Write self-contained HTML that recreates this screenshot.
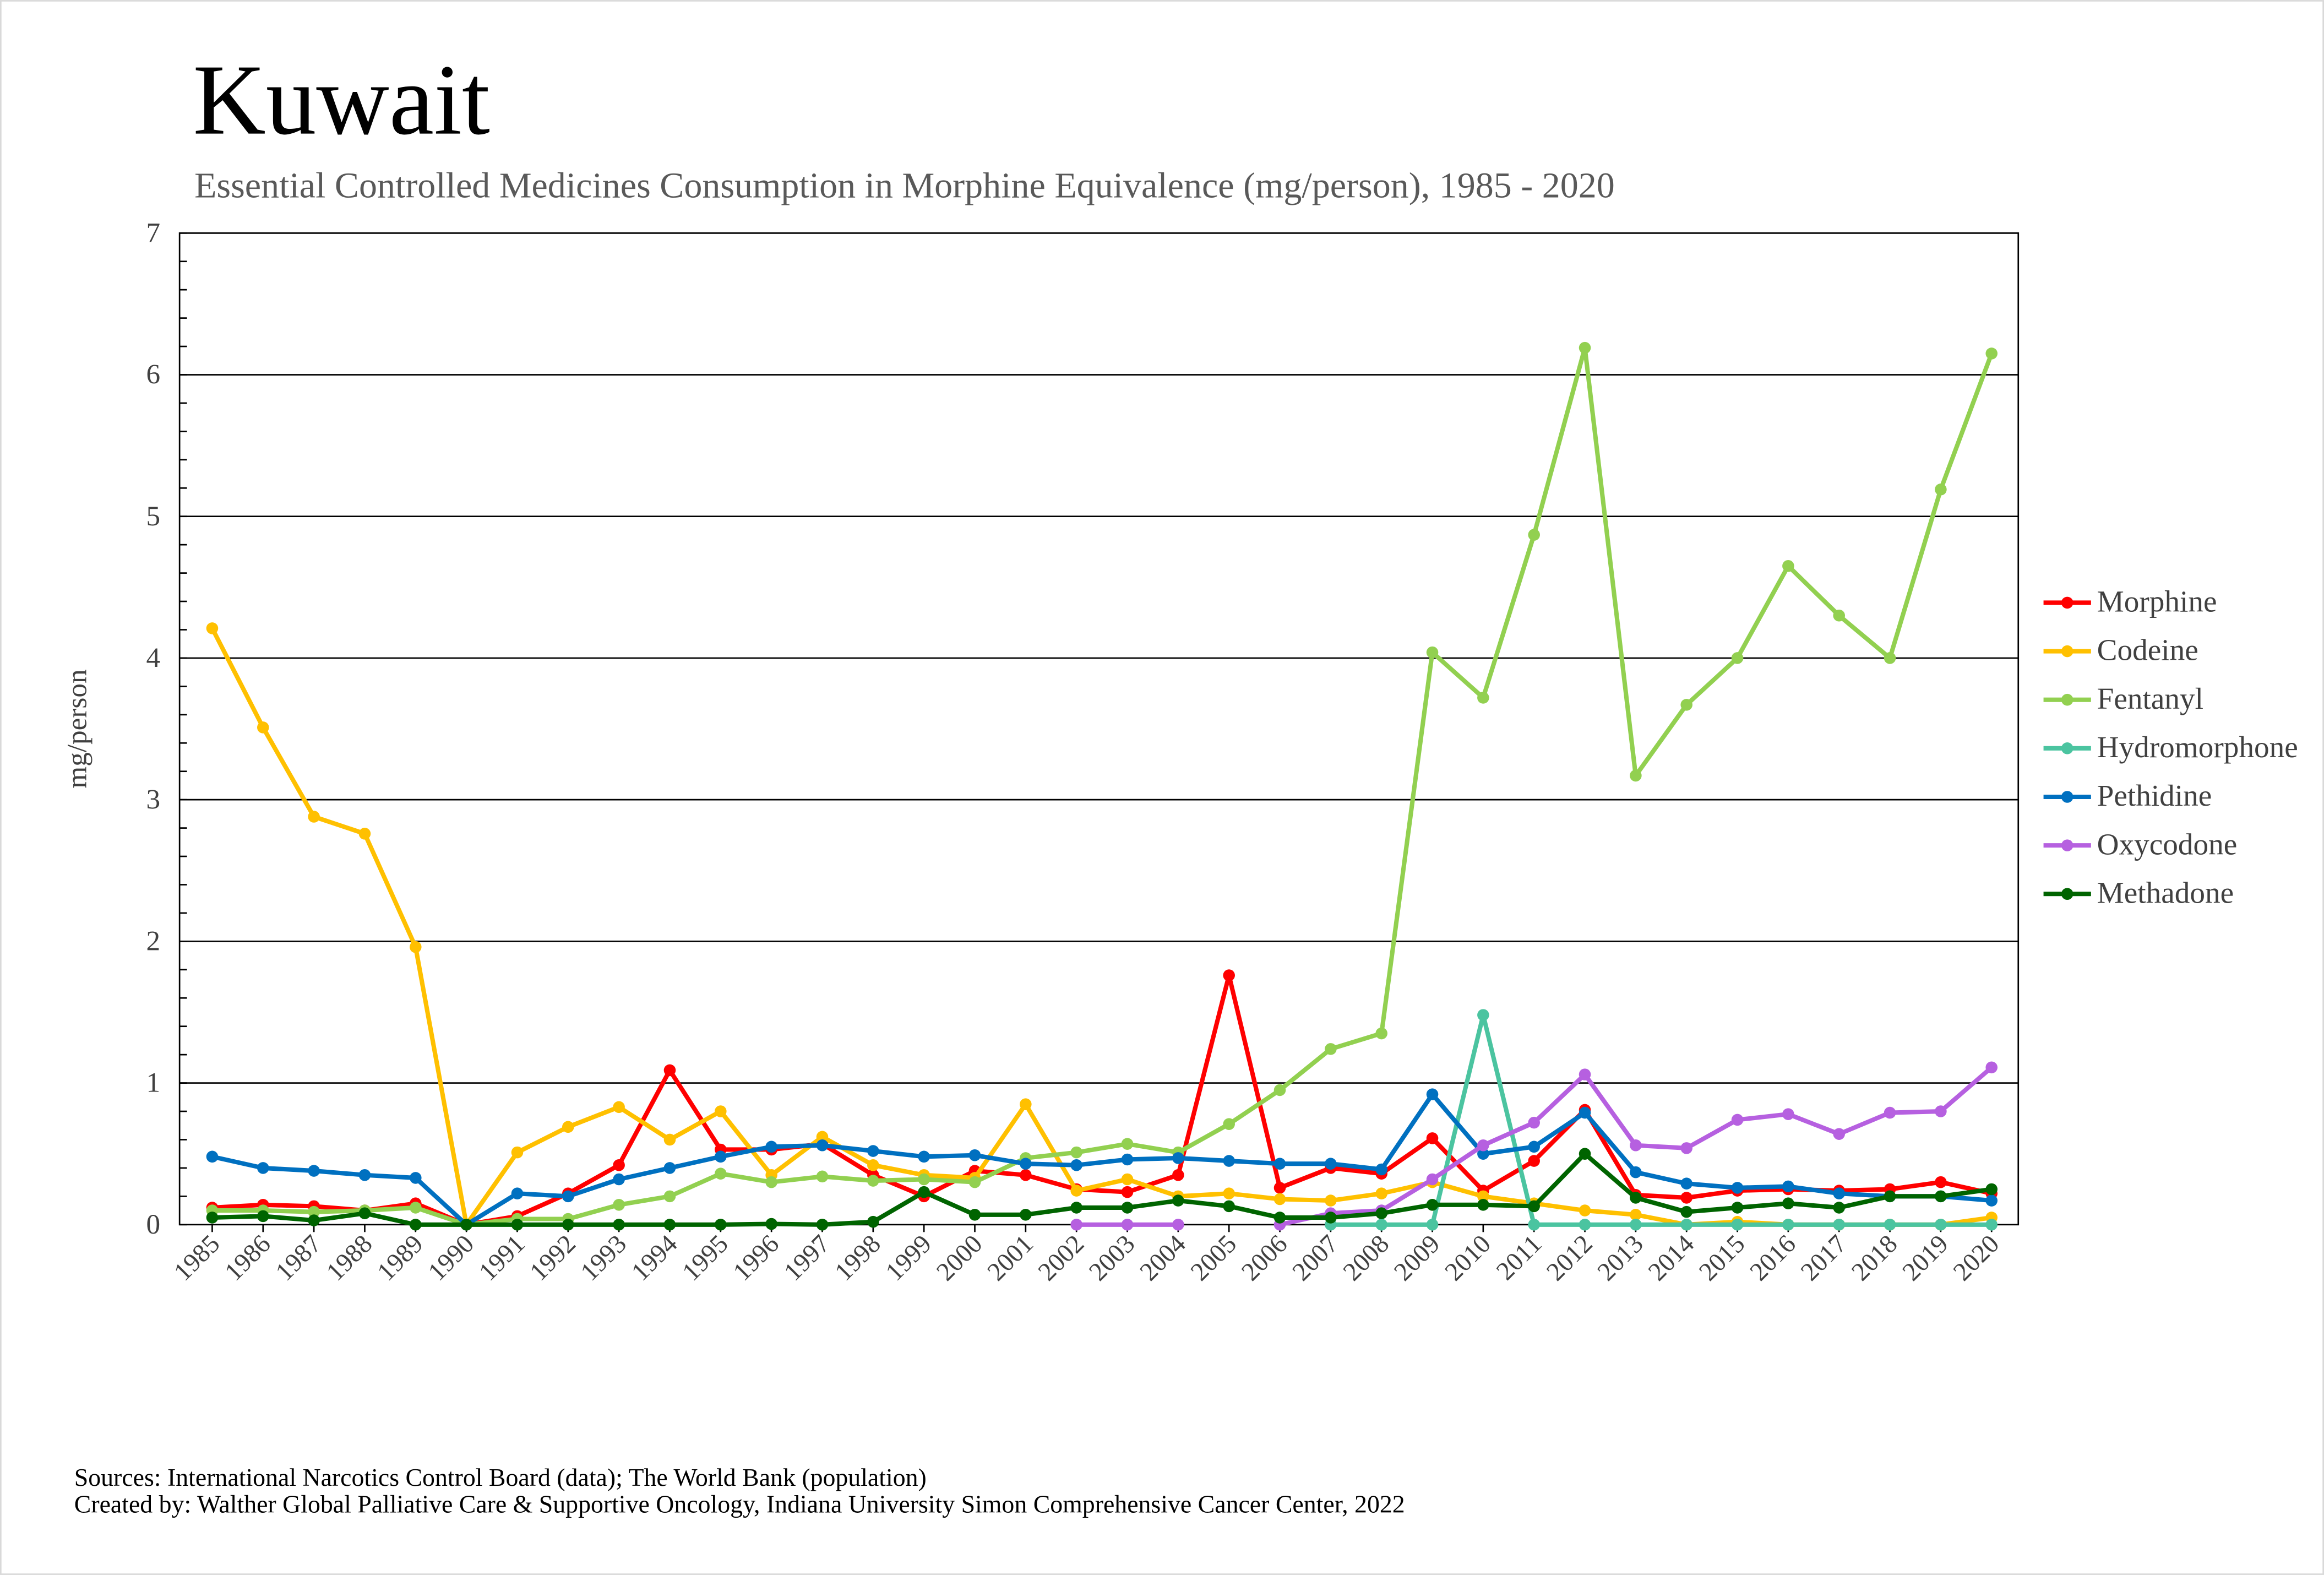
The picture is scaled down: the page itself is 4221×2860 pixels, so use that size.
<!DOCTYPE html>
<html><head><meta charset="utf-8"><style>html,body{margin:0;padding:0;background:#fff}svg{display:block}</style></head>
<body>
<svg id="c" width="4221" height="2860" viewBox="0 0 1566 1061" xmlns="http://www.w3.org/2000/svg" font-family="Liberation Serif, serif">
<rect x="0.5" y="0.5" width="1565" height="1060" fill="#fff" stroke="#d9d9d9"/>
<text x="130" y="90" font-size="68">Kuwait</text>
<text x="131" y="133" font-size="24.5" fill="#595959">Essential Controlled Medicines Consumption in Morphine Equivalence (mg/person), 1985 - 2020</text>
<text transform="translate(58,491) rotate(-90)" text-anchor="middle" font-size="19" fill="#404040">mg/person</text>
<text x="50" y="1001" font-size="17">Sources: International Narcotics Control Board (data); The World Bank (population)</text>
<text x="50" y="1019" font-size="17">Created by: Walther Global Palliative Care &amp; Supportive Oncology, Indiana University Simon Comprehensive Cancer Center, 2022</text>
<g id="g"></g>
</svg>
<script>
const NS="http://www.w3.org/2000/svg",g=document.getElementById('g');
function el(t,a,txt){const e=document.createElementNS(NS,t);for(const k in a)e.setAttribute(k,a[k]);if(txt!=null)e.textContent=txt;g.appendChild(e);return e;}
const L=121,R=1360,T=157,B=825,u=(B-T)/7,x0=143,dx=(1342-143)/35;
const X=i=>x0+i*dx,Y=v=>B-v*u;
for(let k=1;k<=7;k++)el('line',{x1:L,x2:R,y1:Y(k),y2:Y(k),stroke:'#000','stroke-width':1});
el('rect',{x:L,y:T,width:R-L,height:B-T,fill:'none',stroke:'#000','stroke-width':1});
for(let k=0;k<=7;k++){el('text',{x:108,y:Y(k)+6,'text-anchor':'end','font-size':19,fill:'#404040'},k);}
for(let k=0;k<=35;k++){const y=Y(k/5);el('line',{x1:L,x2:L+5,y1:y,y2:y,stroke:'#000','stroke-width':1});}
for(let i=0;i<36;i++){el('line',{x1:X(i),x2:X(i),y1:B,y2:B+5,stroke:'#000','stroke-width':1});
 el('text',{transform:`translate(${X(i)+6},${B+14}) rotate(-45)`,'text-anchor':'end','font-size':17.5,fill:'#404040'},1985+i);}
const S=[
['Morphine','#ff0000',[[0,[0.12,0.14,0.13,0.1,0.15,0,0.06,0.22,0.42,1.09,0.53,0.53,0.57,0.35,0.2,0.38,0.35,0.25,0.23,0.35,1.76,0.26,0.4,0.36,0.61,0.24,0.45,0.81,0.21,0.19,0.24,0.25,0.24,0.25,0.3,0.22]]]],
['Codeine','#ffc000',[[0,[4.21,3.51,2.88,2.76,1.96,0,0.51,0.69,0.83,0.6,0.8,0.35,0.62,0.42,0.35,0.33,0.85,0.24,0.32,0.2,0.22,0.18,0.17,0.22,0.3,0.2,0.15,0.1,0.07,0,0.02,0,0,0,0,0.05]]]],
['Fentanyl','#92d050',[[0,[0.1,0.1,0.09,0.1,0.12,0,0.04,0.04,0.14,0.2,0.36,0.3,0.34,0.31,0.32,0.3,0.47,0.51,0.57,0.51,0.71,0.95,1.24,1.35,4.04,3.72,4.87,6.19,3.17,3.67,4.0,4.65,4.3,4.0,5.19,6.15]]]],
['Hydromorphone','#4bc4a0',[[22,[0,0,0,1.48,0,0,0,0,0,0,0,0,0,0]]]],
['Pethidine','#0070c0',[[0,[0.48,0.4,0.38,0.35,0.33,0,0.22,0.2,0.32,0.4,0.48,0.55,0.56,0.52,0.48,0.49,0.43,0.42,0.46,0.47,0.45,0.43,0.43,0.39,0.92,0.5,0.55,0.79,0.37,0.29,0.26,0.27,0.22,0.2,0.2,0.17]]]],
['Oxycodone','#b660e0',[[17,[0,0,0]],[21,[0,0.08,0.1,0.32,0.56,0.72,1.06,0.56,0.54,0.74,0.78,0.64,0.79,0.8,1.11]]]],
['Methadone','#006400',[[0,[0.05,0.06,0.03,0.08,0,0,0,0,0,0,0,0.005,0,0.02,0.23,0.07,0.07,0.12,0.12,0.17,0.13,0.05,0.05,0.08,0.14,0.14,0.13,0.5,0.19,0.09,0.12,0.15,0.12,0.2,0.2,0.25]]]]];
S.forEach((s,j)=>{s[2].forEach(([st,d])=>{
 el('polyline',{points:d.map((v,i)=>X(st+i)+','+Y(v)).join(' '),fill:'none',stroke:s[1],'stroke-width':3,'stroke-linejoin':'round'});
 d.forEach((v,i)=>el('circle',{cx:X(st+i),cy:Y(v),r:4,fill:s[1]}));});
 const ly=406+j*32.7;
 el('line',{x1:1377,x2:1409,y1:ly,y2:ly,stroke:s[1],'stroke-width':3});
 el('circle',{cx:1393,cy:ly,r:4,fill:s[1]});
 el('text',{x:1413,y:ly+6,'font-size':20.5,fill:'#404040'},s[0]);});
</script>
</body></html>
